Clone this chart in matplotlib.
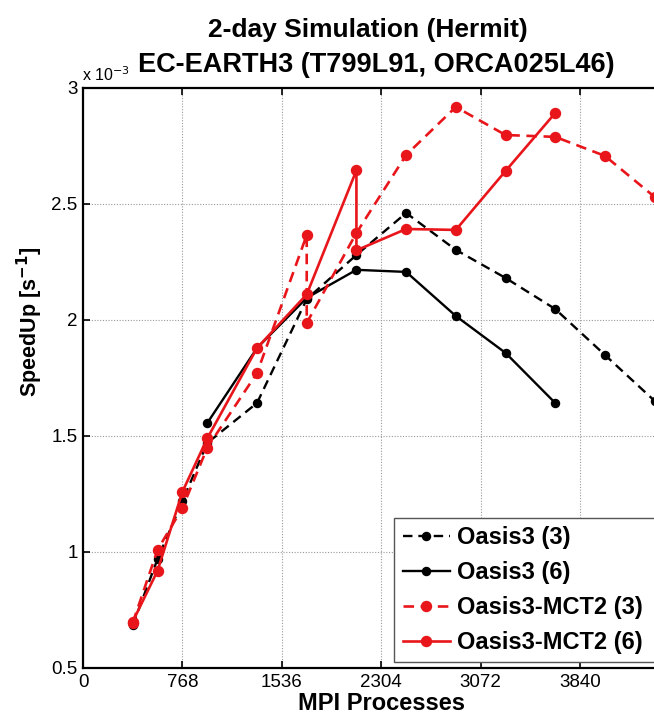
"""SpeedUp of EC-EARTH3 coupled runs on Hermit"""
import matplotlib
matplotlib.use("Agg")
import matplotlib.pyplot as plt

# speedup values are in units of 1e-3 s^-1
x_o3_3 = [384, 576, 768, 960, 1344, 1728, 2112, 2496, 2880, 3264, 3648, 4032, 4416]
su_o3_3 = [0.685, 0.97, 1.22, 1.47, 1.642, 2.09, 2.28, 2.461, 2.302, 2.181, 2.047, 1.849, 1.651]

x_o3_6 = [960, 1344, 1728, 2112, 2496, 2880, 3264, 3648]
su_o3_6 = [1.556, 1.879, 2.095, 2.216, 2.207, 2.017, 1.858, 1.642]

x_mct_3 = [384, 576, 768, 960, 1344, 1728, 1728, 2112, 2496, 2880, 3264, 3648, 4032, 4416]
su_mct_3 = [0.695, 1.01, 1.19, 1.45, 1.771, 2.366, 1.987, 2.375, 2.711, 2.918, 2.797, 2.789, 2.707, 2.53]

x_mct_6 = [384, 576, 768, 960, 1344, 1728, 2112, 2112, 2496, 2880, 3264, 3648]
su_mct_6 = [0.70, 0.92, 1.26, 1.49, 1.879, 2.11, 2.645, 2.30, 2.392, 2.388, 2.642, 2.892]

labels = ["Oasis3 (3)", "Oasis3 (6)", "Oasis3-MCT2 (3)", "Oasis3-MCT2 (6)"]
xticks = [0, 768, 1536, 2304, 3072, 3840]
yticks = [0.5, 1, 1.5, 2, 2.5, 3]

plt.rcParams['font.family'] = ['Liberation Sans', 'DejaVu Sans']

fig = plt.figure(figsize=(6.54, 7.26), dpi=100)
# axes run past the right edge, as in the cropped original
ax = fig.add_axes([0.127, 0.0799, 0.912, 0.799])

dash = (0, (4, 2.5))
ax.plot(x_o3_3, su_o3_3, color="black", ls=dash, lw=1.7, marker="o", ms=5.8, label=labels[0])
ax.plot(x_o3_6, su_o3_6, color="black", ls="-", lw=1.7, marker="o", ms=5.8, label=labels[1])
ax.plot(x_mct_3, su_mct_3, color="#e8161b", ls=dash, lw=1.9, marker="o", ms=7.2, label=labels[2])
ax.plot(x_mct_6, su_mct_6, color="#e8161b", ls="-", lw=1.9, marker="o", ms=7.2, label=labels[3])

ax.set_xlim(0, 4608)
ax.set_ylim(0.5, 3)
ax.set_xticks(xticks)
ax.set_xticklabels([str(t) for t in xticks], fontsize=13.5)
ax.set_yticks(yticks)
ax.set_yticklabels(["0.5", "1", "1.5", "2", "2.5", "3"], fontsize=13.5)
ax.tick_params(direction="in", length=5, width=1.2, top=True, right=True, pad=4)
ax.grid(True, ls=(0, (1, 1.5)), color="#9a9a9a", lw=0.8)
for s in ax.spines.values():
    s.set_linewidth(1.6)

ax.set_xlabel("MPI Processes", fontsize=17, fontweight="bold", labelpad=1)
ax.set_ylabel("SpeedUp [s$^{\\mathbf{-1}}$]", fontsize=15.5, fontweight="bold")
ax.yaxis.set_label_coords(-0.063, 0.597)

fig.text(0.563, 0.958, "2-day Simulation (Hermit)", ha="center", va="center",
         fontsize=19, fontweight="bold")
fig.text(0.575, 0.910, "EC-EARTH3 (T799L91, ORCA025L46)", ha="center", va="center",
         fontsize=19.5, fontweight="bold")
fig.text(0.126, 0.897, "x 10$^{-3}$", ha="left", va="center", fontsize=11.5)

# legend box is cut by the right edge like in the original
leg = ax.legend(loc="lower left", bbox_to_anchor=(0.603, 0.088, 0.42, 0.0),
                bbox_transform=fig.transFigure, borderaxespad=0, mode="expand",
                prop={"size": 17, "weight": "bold"},
                handlelength=2.0, handletextpad=0.3, labelspacing=0.5,
                borderpad=0.35, fancybox=False, framealpha=1, edgecolor="#555555")
leg.get_frame().set_linewidth(1.0)

fig.savefig("out.png", dpi=100)
